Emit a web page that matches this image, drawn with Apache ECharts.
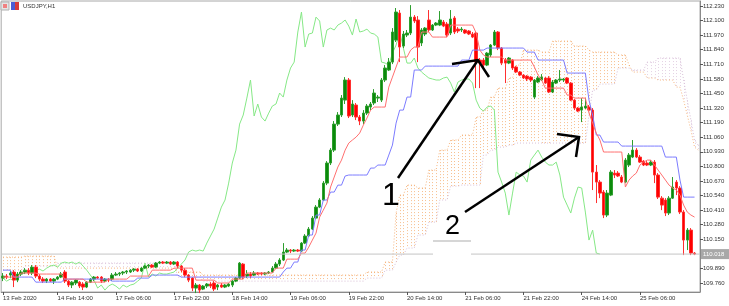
<!DOCTYPE html>
<html><head><meta charset="utf-8">
<script src="https://cdn.jsdelivr.net/npm/echarts@6/dist/echarts.min.js"></script>
<style>html,body{margin:0;padding:0;background:#fff}#c{width:729px;height:306px}</style>
</head><body><div id="c"></div>
<script>
const symbolTitle = 'USDJPY,H1';
const timeTickIndex = [0, 15, 31, 47, 63, 79, 95, 111, 127, 143, 159, 175];
const timeTickLabels = ['13 Feb 2020','14 Feb 14:00','17 Feb 06:00','17 Feb 22:00','18 Feb 14:00','19 Feb 06:00','19 Feb 22:00','20 Feb 14:00','21 Feb 06:00','21 Feb 22:00','24 Feb 14:00','25 Feb 06:00'];
const priceTicks = [112.230,112.100,111.970,111.840,111.710,111.580,111.450,111.320,111.190,111.060,110.930,110.800,110.670,110.540,110.410,110.280,110.150,109.890,109.760];

const open = [109.804,109.822,109.831,109.858,109.786,109.840,109.858,109.875,109.849,109.902,
109.822,109.795,109.777,109.795,109.777,109.795,109.813,109.858,109.777,109.742,
109.760,109.768,109.751,109.724,109.768,109.795,109.813,109.813,109.777,109.795,
109.795,109.831,109.840,109.849,109.858,109.858,109.875,109.884,109.867,109.893,
109.911,109.920,109.902,109.938,109.947,109.938,109.947,109.929,109.947,109.911,
109.875,109.831,109.804,109.715,109.742,109.706,109.733,109.751,109.760,109.724,
109.742,109.724,109.733,109.742,109.777,109.804,109.929,109.822,109.840,109.831,
109.849,109.849,109.840,109.849,109.858,109.893,109.929,109.965,110.036,110.054,
110.045,110.054,110.045,110.116,110.179,110.241,110.339,110.437,110.500,110.651,
110.830,110.945,111.177,111.258,111.391,111.570,111.258,111.347,111.240,111.204,
111.275,111.329,111.365,111.409,111.391,111.570,111.659,111.730,111.926,112.167,
111.873,111.971,111.989,112.131,112.105,111.900,111.980,112.105,112.016,112.060,
112.060,112.087,112.069,111.989,112.123,112.024,112.016,112.016,112.007,111.980,
111.989,111.748,111.748,111.703,111.793,111.882,111.998,111.855,111.748,111.721,
111.748,111.686,111.641,111.614,111.605,111.596,111.418,111.552,111.570,111.588,
111.588,111.463,111.543,111.570,111.570,111.588,111.543,111.391,111.320,111.302,
111.320,111.329,111.302,110.749,110.660,110.571,110.366,110.544,110.740,110.740,
110.705,110.660,110.812,110.883,110.945,110.883,110.847,110.830,110.812,110.838,
110.723,110.517,110.500,110.384,110.517,110.660,110.607,110.393,110.143,110.232,
110.027];
const close = [109.822,109.813,109.849,109.786,109.840,109.858,109.875,109.849,109.902,109.822,
109.795,109.777,109.795,109.777,109.795,109.813,109.840,109.777,109.742,109.768,
109.786,109.733,109.724,109.768,109.795,109.813,109.804,109.777,109.795,109.786,
109.831,109.840,109.849,109.858,109.867,109.875,109.884,109.867,109.893,109.911,
109.920,109.902,109.938,109.947,109.938,109.947,109.929,109.947,109.911,109.875,
109.831,109.786,109.715,109.742,109.697,109.733,109.751,109.733,109.706,109.742,
109.724,109.742,109.751,109.777,109.804,109.938,109.813,109.840,109.822,109.849,
109.840,109.840,109.849,109.858,109.893,109.929,109.965,110.036,110.054,110.045,
110.054,110.045,110.116,110.179,110.241,110.339,110.437,110.500,110.651,110.830,
110.945,111.177,111.258,111.409,111.570,111.249,111.356,111.240,111.204,111.275,
111.338,111.356,111.454,111.418,111.570,111.677,111.730,111.998,112.176,111.864,
111.980,111.989,112.131,112.096,111.864,112.016,112.033,112.016,112.060,112.078,
112.105,112.051,111.971,112.114,111.998,112.007,112.024,111.989,111.980,111.953,
111.730,111.721,111.703,111.810,111.882,111.998,111.855,111.721,111.721,111.766,
111.677,111.641,111.614,111.588,111.579,111.570,111.570,111.588,111.596,111.543,
111.463,111.552,111.570,111.579,111.579,111.543,111.391,111.320,111.293,111.329,
111.338,111.302,110.749,110.660,110.562,110.366,110.562,110.749,110.723,110.714,
110.660,110.856,110.901,110.945,110.883,110.838,110.812,110.812,110.838,110.723,
110.526,110.455,110.384,110.517,110.616,110.607,110.393,110.143,110.232,110.027,
110.018];
const low = [109.777,109.795,109.804,109.724,109.768,109.822,109.840,109.831,109.831,109.804,
109.777,109.760,109.760,109.768,109.751,109.786,109.804,109.760,109.724,109.715,
109.742,109.715,109.697,109.715,109.760,109.777,109.795,109.760,109.768,109.768,
109.777,109.822,109.822,109.831,109.840,109.849,109.858,109.858,109.858,109.884,
109.893,109.893,109.893,109.929,109.929,109.929,109.920,109.920,109.893,109.858,
109.813,109.768,109.688,109.670,109.670,109.697,109.715,109.715,109.688,109.697,
109.715,109.715,109.724,109.724,109.768,109.795,109.795,109.804,109.804,109.822,
109.831,109.831,109.831,109.840,109.849,109.884,109.911,109.956,110.027,110.027,
110.036,110.036,110.036,110.107,110.170,110.232,110.330,110.428,110.491,110.633,
110.812,110.928,111.160,111.240,111.356,111.231,111.240,111.213,111.168,111.177,
111.258,111.302,111.347,111.374,111.374,111.552,111.650,111.712,111.909,111.730,
111.855,111.953,111.971,112.078,111.730,111.873,111.962,111.998,112.007,112.051,
112.051,112.042,111.953,111.971,111.980,111.989,111.998,111.980,111.971,111.944,
111.498,111.498,111.677,111.694,111.775,111.873,111.837,111.703,111.543,111.712,
111.659,111.632,111.605,111.579,111.561,111.552,111.400,111.543,111.561,111.534,
111.454,111.454,111.534,111.552,111.552,111.534,111.382,111.302,111.284,111.195,
111.311,111.293,110.589,110.473,110.517,110.339,110.348,110.535,110.696,110.705,
110.651,110.651,110.794,110.874,110.874,110.830,110.803,110.803,110.803,110.651,
110.509,110.410,110.357,110.366,110.509,110.544,110.375,110.009,110.054,110.009,
110.009];
const high = [109.849,109.840,109.867,109.875,109.858,109.875,109.893,109.893,109.920,109.920,
109.840,109.813,109.804,109.804,109.804,109.822,109.858,109.875,109.786,109.777,
109.795,109.777,109.768,109.777,109.804,109.822,109.822,109.822,109.804,109.804,
109.849,109.858,109.858,109.867,109.875,109.884,109.893,109.893,109.902,109.920,
109.929,109.929,109.947,109.956,109.956,109.956,109.956,109.956,109.956,109.920,
109.893,109.840,109.813,109.760,109.751,109.742,109.760,109.768,109.777,109.751,
109.760,109.751,109.760,109.786,109.813,109.947,109.938,109.875,109.858,109.867,
109.858,109.858,109.858,109.867,109.911,109.947,109.982,110.116,110.072,110.063,
110.063,110.063,110.125,110.196,110.259,110.357,110.455,110.517,110.669,110.847,
110.963,111.204,111.284,111.436,111.596,111.588,111.391,111.365,111.258,111.302,
111.356,111.374,111.489,111.436,111.588,111.703,111.766,112.033,112.212,112.194,
112.007,112.016,112.238,112.149,112.140,112.033,112.042,112.194,112.069,112.087,
112.185,112.105,112.087,112.194,112.140,112.042,112.042,112.024,112.016,111.998,
112.007,111.766,111.766,111.819,111.891,112.016,112.007,111.864,111.766,111.775,
111.757,111.694,111.650,111.623,111.614,111.605,111.579,111.605,111.623,111.596,
111.605,111.570,111.579,111.659,111.588,111.596,111.552,111.400,111.329,111.409,
111.409,111.347,111.320,110.812,110.678,110.589,110.589,110.767,110.767,110.758,
110.723,110.874,110.919,111.035,110.963,110.901,110.856,110.847,110.856,110.856,
110.740,110.535,110.517,110.535,110.705,110.678,110.624,110.410,110.250,110.250,
110.036];

const tenkan = [109.813,109.813,109.813,109.813,109.813,109.849,109.849,109.849,109.849,109.849,
109.840,109.840,109.840,109.840,109.840,109.840,109.840,109.795,109.795,109.795,
109.795,109.795,109.795,109.768,109.768,109.768,109.768,109.768,109.768,109.795,
109.795,109.795,109.795,109.795,109.795,109.822,109.822,109.822,109.822,109.822,
109.822,109.875,109.875,109.875,109.875,109.875,109.875,109.893,109.893,109.893,
109.893,109.893,109.893,109.786,109.786,109.786,109.786,109.786,109.786,109.760,
109.760,109.760,109.760,109.795,109.795,109.795,109.795,109.849,109.849,109.849,
109.849,109.849,109.849,109.849,109.849,109.893,109.893,109.893,109.973,109.973,
109.973,109.973,110.027,110.027,110.080,110.143,110.205,110.348,110.410,110.473,
110.616,110.705,110.794,110.856,110.945,111.008,111.035,111.061,111.097,111.168,
111.231,111.302,111.329,111.329,111.329,111.329,111.507,111.596,111.686,111.775,
111.775,111.775,111.837,111.864,111.864,111.998,111.998,111.998,111.953,111.953,
111.953,111.953,111.953,112.060,112.060,112.060,112.060,112.060,112.060,112.060,
111.989,111.837,111.793,111.775,111.775,111.775,111.775,111.775,111.748,111.748,
111.748,111.748,111.748,111.748,111.748,111.748,111.686,111.614,111.570,111.498,
111.498,111.498,111.498,111.498,111.498,111.436,111.436,111.409,111.409,111.409,
111.409,111.275,111.186,111.097,111.035,110.928,110.928,110.928,110.928,110.928,
110.928,110.616,110.678,110.714,110.740,110.812,110.838,110.856,110.856,110.812,
110.767,110.723,110.678,110.633,110.607,110.589,110.544,110.455,110.393,110.366,
110.348];
const kijun = [109.875,109.875,109.875,109.813,109.813,109.813,109.813,109.813,109.813,109.768,
109.768,109.768,109.768,109.768,109.768,109.768,109.768,109.795,109.795,109.795,
109.795,109.795,109.795,109.795,109.795,109.795,109.795,109.795,109.795,109.795,
109.777,109.777,109.777,109.777,109.777,109.777,109.777,109.804,109.804,109.804,
109.804,109.831,109.831,109.831,109.831,109.831,109.831,109.831,109.831,109.813,
109.813,109.813,109.813,109.813,109.813,109.813,109.813,109.813,109.813,109.813,
109.813,109.813,109.813,109.813,109.813,109.813,109.813,109.813,109.813,109.813,
109.813,109.813,109.813,109.813,109.813,109.813,109.813,109.858,109.893,109.893,
109.947,109.947,110.054,110.054,110.188,110.188,110.366,110.366,110.500,110.500,
110.571,110.571,110.633,110.633,110.714,110.723,110.723,110.723,110.723,110.723,
110.723,110.785,110.785,110.812,110.812,110.812,110.901,110.990,111.186,111.302,
111.302,111.418,111.418,111.659,111.659,111.659,111.694,111.694,111.694,111.694,
111.694,111.694,111.694,111.694,111.694,111.694,111.748,111.748,111.748,111.837,
111.837,111.837,111.837,111.855,111.855,111.855,111.855,111.855,111.855,111.855,
111.855,111.855,111.855,111.855,111.819,111.819,111.819,111.748,111.748,111.748,
111.748,111.748,111.748,111.748,111.748,111.632,111.632,111.632,111.632,111.632,
111.632,111.391,111.258,111.079,111.079,111.017,111.017,111.017,111.017,111.017,
110.981,110.981,110.981,110.981,110.981,110.981,110.981,110.981,110.981,110.981,
110.981,110.981,110.883,110.883,110.883,110.883,110.678,110.526,110.526,110.526,
110.526];
const spanA = [109.991,109.991,109.991,109.991,109.991,109.991,110.000,110.000,110.000,110.000,
110.000,110.000,110.000,110.000,110.000,109.893,109.893,109.893,109.893,109.893,
109.893,109.893,109.893,109.893,109.893,109.893,109.893,109.893,109.893,109.893,
109.893,109.893,109.893,109.893,109.893,109.893,109.893,109.893,109.893,109.893,
109.893,109.893,109.893,109.893,109.893,109.893,109.893,109.893,109.858,109.858,
109.858,109.858,109.858,109.858,109.858,109.831,109.831,109.831,109.831,109.831,
109.831,109.831,109.831,109.831,109.831,109.831,109.831,109.831,109.831,109.831,
109.831,109.831,109.831,109.831,109.831,109.831,109.831,109.831,109.831,109.831,
109.831,109.831,109.831,109.831,109.831,109.831,109.831,109.831,109.831,109.831,
109.831,109.831,109.831,109.831,109.831,109.831,109.831,109.831,109.831,109.831,
109.858,109.858,109.858,109.858,109.858,109.947,109.947,109.947,110.384,110.544,
110.544,110.633,110.633,110.633,110.607,110.607,110.607,110.767,110.767,110.767,
110.945,110.945,110.945,111.035,111.035,111.035,111.079,111.079,111.079,111.079,
111.240,111.240,111.302,111.302,111.418,111.418,111.498,111.498,111.498,111.588,
111.588,111.703,111.703,111.837,111.837,111.837,111.837,111.837,111.819,111.819,
111.819,111.917,111.917,111.917,111.917,111.917,111.917,111.873,111.873,111.873,
111.873,111.837,111.819,111.819,111.819,111.819,111.819,111.819,111.819,111.793,
111.793,111.793,111.703,111.641,111.641,111.641,111.641,111.588,111.588,111.588,
111.570,111.570,111.570,111.570,111.570,111.507,111.507,111.391,111.258,111.124,
110.972,110.945];
const spanB = [109.875,109.875,109.875,109.875,109.875,109.875,109.911,109.911,109.911,109.911,
109.911,109.911,109.911,109.911,109.911,109.938,109.938,109.938,109.938,109.938,
109.938,109.938,109.938,109.938,109.938,109.938,109.938,109.938,109.938,109.938,
109.938,109.938,109.938,109.938,109.938,109.938,109.938,109.938,109.938,109.938,
109.938,109.938,109.938,109.938,109.938,109.938,109.938,109.938,109.813,109.813,
109.813,109.813,109.813,109.813,109.813,109.777,109.777,109.777,109.777,109.777,
109.777,109.777,109.777,109.777,109.777,109.777,109.777,109.777,109.777,109.777,
109.777,109.777,109.777,109.777,109.777,109.777,109.777,109.777,109.777,109.777,
109.777,109.777,109.777,109.777,109.777,109.777,109.777,109.777,109.777,109.777,
109.777,109.777,109.777,109.777,109.777,109.777,109.777,109.777,109.777,109.777,
109.804,109.804,109.804,109.804,109.804,109.875,109.875,109.875,109.947,110.009,
110.009,110.072,110.072,110.072,110.188,110.188,110.188,110.303,110.303,110.303,
110.500,110.500,110.500,110.624,110.624,110.624,110.633,110.633,110.633,110.633,
110.633,110.633,110.901,110.901,110.945,110.945,110.972,110.972,110.972,110.990,
110.990,111.008,111.008,111.008,111.008,111.008,111.008,111.008,111.008,111.008,
111.008,111.008,111.008,111.008,111.008,111.008,111.008,111.008,111.008,111.008,
111.008,111.258,111.480,111.480,111.534,111.534,111.534,111.534,111.534,111.677,
111.677,111.677,111.677,111.659,111.659,111.659,111.659,111.730,111.730,111.730,
111.766,111.766,111.766,111.766,111.766,111.766,111.766,111.570,111.391,111.213,
111.035,110.990];

// ---- derived structures for the library ----
const N = 192;
const categories = Array.from({length: N}, (_, i) => String(i));
const candles = open.map((o, i) => [o, close[i], low[i], high[i]]);
const chikou = categories.map((_, i) => (i + 26 < close.length ? close[i + 26] : null));
const cloudData = spanA.map((a, i) => [i, a, spanB[i]]);
const currentPrice = close[close.length - 1];
const tickMap = {};
timeTickIndex.forEach((k, j) => { tickMap[k] = timeTickLabels[j]; });

const FONT = 'Liberation Sans';
const chart = echarts.init(document.getElementById('c'), null, { renderer: 'canvas' });
const lineBase = { type: 'line', symbol: 'none', silent: true, animation: false, connectNulls: false };

function renderCloud(params, api) {
  const i = api.value(0), a = api.value(1), b = api.value(2);
  const pa = api.coord([i, a]);
  const pb = api.coord([i, b]);
  const x = Math.round(pa[0]) + 0.5;
  return {
    type: 'line', silent: true,
    shape: { x1: x, y1: Math.min(pa[1], pb[1]), x2: x, y2: Math.max(pa[1], pb[1]) },
    style: { stroke: a >= b ? '#f4a460' : '#d8bfd8', lineWidth: 1, lineDash: [1, 2], opacity: 0.7 }
  };
}

chart.setOption({
  animation: false,
  backgroundColor: '#ffffff',
  grid: { left: 1, right: 29, top: 1, bottom: 14, show: true, borderColor: '#a8a8a8', borderWidth: 1 },
  xAxis: {
    type: 'category', data: categories, boundaryGap: true,
    axisLine: { show: true, lineStyle: { color: '#8a8a8a' } },
    axisTick: { show: true, alignWithLabel: true, length: 3, interval: (i) => tickMap[i] !== undefined, lineStyle: { color: '#555' } },
    axisLabel: { interval: (i) => tickMap[i] !== undefined, formatter: (v, i) => tickMap[i] || '', align: 'left', fontSize: 6, fontFamily: FONT, color: '#333', margin: 3 },
    splitLine: { show: false }
  },
  yAxis: {
    type: 'value', position: 'right', min: 109.680, max: 112.2746, scale: true,
    axisLine: { show: true, lineStyle: { color: '#8a8a8a' } },
    axisTick: { show: true, length: 3, customValues: priceTicks, lineStyle: { color: '#555' } },
    axisLabel: { customValues: priceTicks, formatter: (v) => v.toFixed(3), fontSize: 6, fontFamily: FONT, color: '#333', margin: 3 },
    splitLine: { show: false }
  },
  series: [
    { type: 'custom', name: 'Kumo', data: cloudData, renderItem: renderCloud, encode: { x: 0, y: [1, 2] }, silent: true, z: 1, clip: true },
    Object.assign({}, lineBase, { name: 'Senkou A', data: spanA, lineStyle: { color: '#f4a460', width: 1, type: [1, 2], opacity: 0.8 }, z: 2 }),
    Object.assign({}, lineBase, { name: 'Senkou B', data: spanB, lineStyle: { color: '#d8bfd8', width: 1, type: [1, 2] }, z: 2 }),
    Object.assign({}, lineBase, { name: 'Chikou', data: chikou, lineStyle: { color: '#86e886', width: 1 }, z: 3 }),
    {
      type: 'candlestick', name: 'USDJPY', data: candles, barWidth: 3, silent: true, z: 4,
      itemStyle: { color: '#0b8a0b', color0: '#ff0000', borderColor: '#2f9f2f', borderColor0: '#ff3030', borderWidth: 1 }
    },
    Object.assign({}, lineBase, { name: 'Kijun', data: kijun, lineStyle: { color: '#7c7cff', width: 1 }, z: 5 }),
    Object.assign({}, lineBase, { name: 'Tenkan', data: tenkan, lineStyle: { color: '#ff7070', width: 1 }, z: 5 })
  ]
});

const py = chart.convertToPixel({ yAxisIndex: 0 }, currentPrice);
chart.setOption({
  graphic: [
    { type: 'line', shape: { x1: 1, y1: py, x2: 433, y2: py }, style: { stroke: '#c4c4c4', lineWidth: 1 }, z: 50 },
    { type: 'line', shape: { x1: 471, y1: py, x2: 700, y2: py }, style: { stroke: '#c4c4c4', lineWidth: 1 }, z: 50 },
    { type: 'line', shape: { x1: 433, y1: 241, x2: 471, y2: 241 }, style: { stroke: '#c8c8c8', lineWidth: 1.5 }, z: 50 },
    { type: 'rect', shape: { x: 701, y: py - 5, width: 28, height: 10 }, style: { fill: '#a8a8a8' }, z: 60 },
    { type: 'text', x: 703, y: py, style: { text: currentPrice.toFixed(3), fill: '#ffffff', fontSize: 6, fontFamily: FONT, verticalAlign: 'middle' }, z: 61 },
    { type: 'rect', shape: { x: 1, y: 2, width: 8, height: 8 }, style: { fill: '#e4e4e4', stroke: '#b0b0b0', lineWidth: 1 }, z: 60 },
    { type: 'rect', shape: { x: 3, y: 4, width: 4, height: 4 }, style: { fill: '#f08080' }, z: 61 },
    { type: 'rect', shape: { x: 11, y: 2, width: 4, height: 8 }, style: { fill: '#4a5cd6' }, z: 60 },
    { type: 'rect', shape: { x: 15, y: 2, width: 4, height: 8 }, style: { fill: '#d63a3a' }, z: 60 },
    { type: 'text', x: 23, y: 6, style: { text: symbolTitle, fill: '#333', fontSize: 6, fontFamily: FONT, verticalAlign: 'middle' }, z: 60 },
    { type: 'polyline', shape: { points: [[398, 178], [478, 60]] }, style: { stroke: '#000', lineWidth: 2.5, fill: null }, z: 70 },
    { type: 'polyline', shape: { points: [[452, 64], [478, 60], [489, 77]] }, style: { stroke: '#000', lineWidth: 2.5, fill: null }, z: 70 },
    { type: 'polyline', shape: { points: [[465, 212], [579, 137]] }, style: { stroke: '#000', lineWidth: 2.5, fill: null }, z: 70 },
    { type: 'polyline', shape: { points: [[557, 134], [579, 137], [576, 157]] }, style: { stroke: '#000', lineWidth: 2.5, fill: null }, z: 70 },
    { type: 'text', x: 382, y: 180, style: { text: '1', fill: '#000', fontSize: 32, fontFamily: FONT }, z: 70 },
    { type: 'text', x: 445, y: 213, style: { text: '2', fill: '#000', fontSize: 27, fontFamily: FONT }, z: 70 }
  ]
});
</script>
</body></html>
